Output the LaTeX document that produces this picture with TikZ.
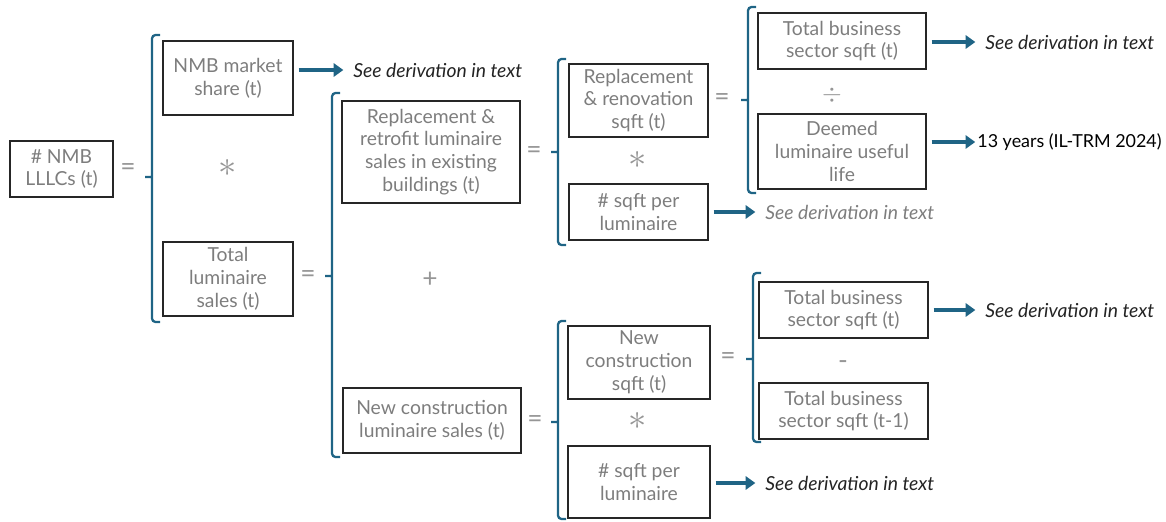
\documentclass[tikz,border=0pt]{standalone}
\usepackage{fontspec}
\setmainfont{Lato}
\usetikzlibrary{arrows.meta, positioning}
\definecolor{brkblue}{RGB}{31,100,133}
\definecolor{boxtext}{RGB}{125,125,125}
\definecolor{opgray}{RGB}{150,150,150}
\definecolor{notedark}{RGB}{35,35,35}

\tikzset{
  box/.style 2 args={draw=black!85, line width=0.8pt, text=boxtext, align=center,
    minimum width=#1*0.02cm, minimum height=#2*0.02cm, inner sep=1pt,
    font=\fontsize{11}{13}\selectfont},
  op/.style={text=opgray, inner sep=0pt, font=\fontsize{15}{15}\selectfont},
  mul/.style={op, font=\fontsize{22}{22}\selectfont},
  note/.style={anchor=west, inner sep=0pt, text=notedark, font=\fontsize{11}{13}\selectfont\itshape},
  brk/.style={draw=brkblue, line width=1.3pt, rounded corners=2pt},
  garrow/.style={draw=brkblue, line width=2.3pt, -{Triangle[length=5.5pt,width=7.5pt]},
    shorten <=2.8pt, shorten >=5.5pt}
}

\begin{document}
\begin{tikzpicture}[x=0.02cm, y=-0.02cm]
    \useasboundingbox (0,0) rectangle (1166,521);

    % boxes
    \node[box={103}{56}] (lllc) at (61.5,169) {\# NMB\\LLLCs (t)};
    \node[box={130}{74}] (share) at (228,78) {NMB market\\share (t)};
    \node[box={130}{74}] (total) at (228,279) {Total\\luminaire\\sales (t)};
    \node[box={178}{102}] (retro) at (431,152) {Replacement \&\\retrofit luminaire\\sales in existing\\buildings (t)};
    \node[box={178}{65}] (newcon) at (432,420.5) {New construction\\luminaire sales (t)};
    \node[box={139}{73}] (renov) at (638.5,100.5) {Replacement\\\& renovation\\sqft (t)};
    \node[box={139}{56}] (sqftA) at (638.5,212) {\# sqft per\\luminaire};
    \node[box={168}{56}] (bizA) at (842,41) {Total business\\sector sqft (t)};
    \node[box={168}{75}] (life) at (842,151.5) {Deemed\\luminaire useful\\life};
    \node[box={142}{73}] (ncsqft) at (639,362.5) {New\\construction\\sqft (t)};
    \node[box={142}{72}] (sqftB) at (639,482) {\# sqft per\\luminaire};
    \node[box={169}{56}] (bizB) at (843.5,310) {Total business\\sector sqft (t)};
    \node[box={169}{56}] (bizC) at (843.5,411) {Total business\\sector sqft (t-1)};

    % operators
    \node[op] (eqA) at (128,170) {=};
    \node[mul] (mulA) at (228,168) {$\ast$};
    \node[op] (eqB) at (308,277) {=};
    \node[op] (plus) at (430,280) {+};
    \node[op] (eqC) at (534,153) {=};
    \node[mul] (mulB) at (638,160) {$\ast$};
    \node[op] (eqD) at (722,100) {=};
    \node[op] (divA) at (832,95) {$\div$};
    \node[op] (eqE) at (535,422) {=};
    \node[mul] (mulC) at (638,421) {$\ast$};
    \node[op] (eqF) at (728,359) {=};
    \node[op] (minus) at (843,365) {-};

    % brackets
    \draw[brk] (160,35) -- (152,35) -- (152,322) -- (160,322) (152,177) -- (145,177);
    \draw[brk] (340,93) -- (332,93) -- (332,457) -- (340,457) (332,276) -- (325,276);
    \draw[brk] (566,59) -- (558,59) -- (558,245) -- (566,245) (558,152) -- (551,152);
    \draw[brk] (756,7) -- (748,7) -- (748,193) -- (756,193) (748,100) -- (741,100);
    \draw[brk] (566,321) -- (558,321) -- (558,519) -- (566,519) (558,422) -- (551,422);
    \draw[brk] (761,273) -- (753,273) -- (753,442) -- (761,442) (753,359) -- (746,359);

    % notes
    \node[note] (noteA) at (353,70) {See derivation in text};
    \node[note, text=boxtext] (noteB) at (765,212) {See derivation in text};
    \node[note] (noteC) at (985,42) {See derivation in text};
    \node[note, font=\fontsize{10.2}{12}\selectfont, text=black] (noteD) at (977,142) {13 years (IL-TRM 2024)};
    \node[note] (noteE) at (985,310) {See derivation in text};
    \node[note] (noteF) at (765,483) {See derivation in text};

    % arrows
    \draw[garrow] (share.east |- noteA.west) -- (noteA.west);
    \draw[garrow] (sqftA.east |- noteB.west) -- (noteB.west);
    \draw[garrow] (bizA.east |- noteC.west) -- (noteC.west);
    \draw[garrow, shorten >=1pt] (life.east |- noteD.west) -- (noteD.west);
    \draw[garrow] (bizB.east |- noteE.west) -- (noteE.west);
    \draw[garrow] (sqftB.east |- noteF.west) -- (noteF.west);
\end{tikzpicture}
\end{document}
